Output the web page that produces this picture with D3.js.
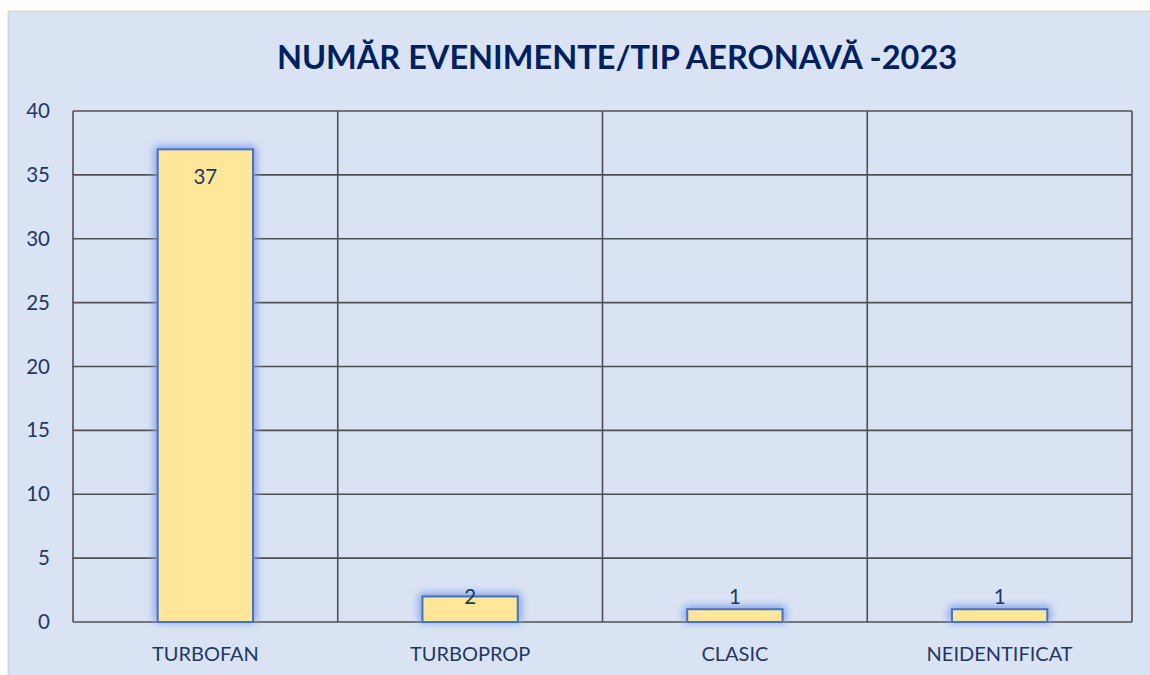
<!DOCTYPE html>
<html lang="ro">
<head>
<meta charset="UTF-8">
<title>Număr evenimente/tip aeronavă -2023</title>
<script src="https://cdn.jsdelivr.net/npm/d3@7"></script>
<style>
    html, body { margin: 0; padding: 0; background: #fff; }
    svg { display: block; font-family: Lato, "Open Sans", sans-serif; }
</style>
</head>
<body>
<div id="chart"></div>
<script>
    // datele graficului
    const categories = ["TURBOFAN", "TURBOPROP", "CLASIC", "NEIDENTIFICAT"];
    const values = [37, 2, 1, 1];
    const yTicks = [0, 5, 10, 15, 20, 25, 30, 35, 40];

    const W = 1150, H = 675;
    const plot = { left: 73, top: 111, right: 1132, bottom: 622 };
    const navy = "#1F3864";

    const svg = d3.select("#chart").append("svg")
        .attr("width", W)
        .attr("height", H);

    const defs = svg.append("defs");
    const glow = defs.append("filter").attr("id", "glow")
        .attr("x", "-40%").attr("y", "-40%").attr("width", "180%").attr("height", "180%");
    glow.append("feGaussianBlur").attr("stdDeviation", 4);

    // fundal
    svg.append("rect")
        .attr("x", 8.5).attr("y", 11.5)
        .attr("width", W).attr("height", H)
        .attr("fill", "#DAE3F3")
        .attr("stroke", "#D6DAD6")
        .attr("stroke-width", 2);

    const x = d3.scaleBand()
        .domain(categories)
        .range([plot.left, plot.right])
        .paddingInner(0)
        .paddingOuter(0);

    const y = d3.scaleLinear()
        .domain([0, 40])
        .range([plot.bottom, plot.top]);

    // linii de grilă orizontale
    svg.append("g")
        .selectAll("line")
        .data(yTicks)
        .enter()
        .append("line")
        .attr("x1", plot.left).attr("x2", plot.right)
        .attr("y1", d => y(d)).attr("y2", d => y(d))
        .attr("stroke", "#505050")
        .attr("stroke-width", 1.6);

    // linii verticale între categorii
    const bounds = categories.map(c => x(c)).concat([plot.right]);
    svg.append("g")
        .selectAll("line")
        .data(bounds)
        .enter()
        .append("line")
        .attr("x1", d => d).attr("x2", d => d)
        .attr("y1", plot.top).attr("y2", plot.bottom)
        .attr("stroke", "#505050")
        .attr("stroke-width", 1.6);

    // axa Y
    const yAxis = svg.append("g")
        .attr("transform", "translate(" + (plot.left - 23) + ",0)")
        .call(d3.axisLeft(y).tickValues(yTicks).tickSize(0).tickPadding(0));
    yAxis.select(".domain").remove();
    yAxis.selectAll("text")
        .attr("fill", navy)
        .style("font-size", "20.5px")
        .style("font-family", "Lato, sans-serif");

    // axa X
    const xAxis = svg.append("g")
        .attr("transform", "translate(0," + plot.bottom + ")")
        .call(d3.axisBottom(x).tickSize(0).tickPadding(25));
    xAxis.select(".domain").remove();
    xAxis.selectAll("text")
        .attr("fill", navy)
        .style("font-size", "20px")
        .style("font-family", "Lato, sans-serif");

    const barW = x.bandwidth() * 0.36;

    // strălucire
    svg.append("g")
        .selectAll("rect")
        .data(values)
        .enter()
        .append("rect")
        .attr("x", (d, i) => x(categories[i]) + (x.bandwidth() - barW) / 2 - 3)
        .attr("y", d => y(d) - 3)
        .attr("width", barW + 6)
        .attr("height", d => y(0) - y(d) + 3)
        .attr("fill", "#7C9BE6")
        .attr("filter", "url(#glow)");

    // bare
    svg.append("g")
        .selectAll("rect")
        .data(values)
        .enter()
        .append("rect")
        .attr("x", (d, i) => x(categories[i]) + (x.bandwidth() - barW) / 2)
        .attr("y", d => y(d))
        .attr("width", barW)
        .attr("height", d => y(0) - y(d))
        .attr("fill", "#FFE699")
        .attr("stroke", "#4472C4")
        .attr("stroke-width", 2);

    // etichete
    svg.append("g")
        .selectAll("text")
        .data(values)
        .enter()
        .append("text")
        .attr("x", (d, i) => x(categories[i]) + x.bandwidth() / 2)
        .attr("y", d => Math.min(y(d) + 35, y(0) - 18))
        .attr("text-anchor", "middle")
        .attr("fill", navy)
        .style("font-size", "20.5px")
        .text(d => d);

    // titlu
    svg.append("text")
        .attr("x", 617)
        .attr("y", 69)
        .attr("text-anchor", "middle")
        .attr("fill", "#002060")
        .style("font-size", "32.5px")
        .style("font-weight", "bold")
        .text("NUMĂR EVENIMENTE/TIP AERONAVĂ -2023");
</script>
</body>
</html>
